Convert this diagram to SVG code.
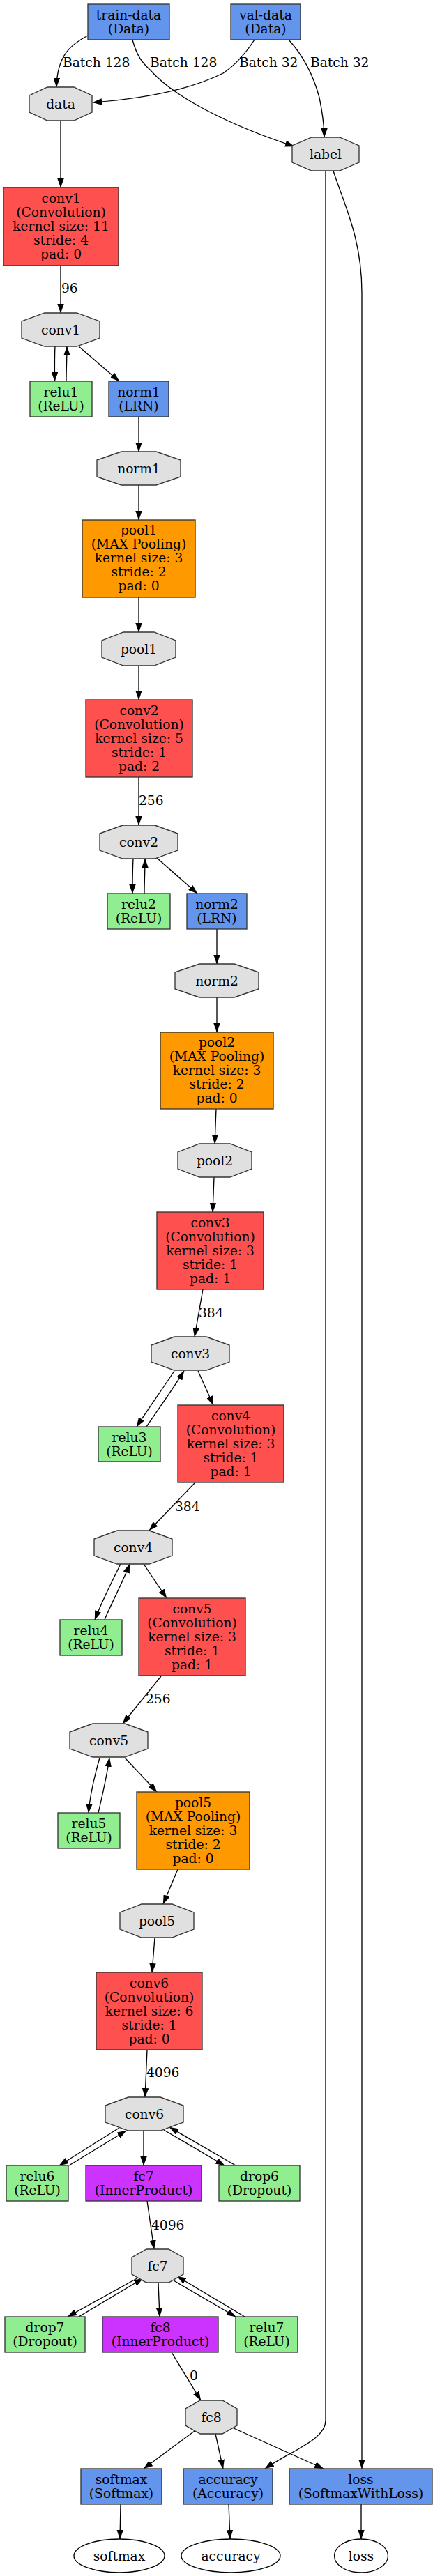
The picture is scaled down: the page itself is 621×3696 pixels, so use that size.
<svg xmlns="http://www.w3.org/2000/svg" width="621" height="3696" viewBox="0 0 621 3696">
<style>
text{font-family:"DejaVu Serif","Liberation Serif",serif;font-size:18.67px;fill:#000}
.n text{text-anchor:middle}
.blob{fill:#E0E0E0;stroke:#333;stroke-width:1.33}
.conv{fill:#FF5050;stroke:#333;stroke-width:1.33}
.pool{fill:#FF9900;stroke:#333;stroke-width:1.33}
.ip{fill:#CC33FF;stroke:#333;stroke-width:1.33}
.blue{fill:#6495ED;stroke:#333;stroke-width:1.33}
.green{fill:#90EE90;stroke:#333;stroke-width:1.33}
.out{fill:#fff;stroke:#000;stroke-width:1.33}
#edges path{fill:none;stroke:#000;stroke-width:1.33;marker-end:url(#ah)}
</style>
<defs>
<marker id="ah" viewBox="0 0 13.5 9.5" refX="13" refY="4.75" markerWidth="13.5" markerHeight="9.5" markerUnits="userSpaceOnUse" orient="auto">
<path d="M0,0 L13.5,4.75 L0,9.5 z" fill="#000"/>
</marker>
</defs>
<rect width="621" height="3696" fill="#fff"/>
<g id="edges">
<path d="M126,51 C103,63 82,78 81,125"/>
<path d="M190,57 C196,80 204,90 215,100 C250,140 330,180 422,210"/>
<path d="M365,57 C350,80 335,95 320,105 C270,130 200,142 133,147"/>
<path d="M414,57 C435,80 450,110 458,140 C463,165 465,180 465,197"/>
<path d="M87,173 L87,269"/>
<path d="M467,245 L467,3473 C467,3500 420,3515 380,3542"/>
<path d="M478,245 C492,290 519,340 519,420 L519,3542"/>
<path d="M87,381 L87,449"/>
<path d="M79,497 C78,515 78.5,530 78.5,547"/>
<path d="M95,547 C95,530 96,515 96,497"/>
<path d="M113,497 L171,547"/>
<path d="M199,598 L199,648"/>
<path d="M199,696 L199,746"/>
<path d="M199,857 L199,907"/>
<path d="M199,955 L199,1004"/>
<path d="M199,1115 L199,1184"/>
<path d="M191,1232 C190,1250 190,1265 190,1282"/>
<path d="M207,1282 C207,1265 208,1250 208,1232"/>
<path d="M225,1231 L283,1282"/>
<path d="M311,1333 L311,1383"/>
<path d="M311,1431 L311,1481"/>
<path d="M310,1591 L308,1641"/>
<path d="M307,1689 L305,1739"/>
<path d="M291,1850 L279,1918"/>
<path d="M250,1967 C235,1990 210,2025 196,2047"/>
<path d="M210,2047 C225,2025 250,1990 264,1967"/>
<path d="M284,1967 L306,2016"/>
<path d="M279,2128 L214,2196"/>
<path d="M173,2244 C160,2270 145,2300 136,2324"/>
<path d="M150,2324 C160,2300 176,2270 186,2244"/>
<path d="M206,2244 L239,2293"/>
<path d="M231,2405 L176,2473"/>
<path d="M143,2522 C135,2550 129,2575 127,2601"/>
<path d="M141,2601 C147,2575 153,2550 157,2522"/>
<path d="M179,2522 L225,2571"/>
<path d="M255,2682 L234,2732"/>
<path d="M222,2780 L218,2830"/>
<path d="M211,2941 L208,3009"/>
<path d="M171,3053 L85,3107"/>
<path d="M99,3107 L181,3057"/>
<path d="M206,3057 L206,3107"/>
<path d="M235,3056 L322,3107"/>
<path d="M338,3107 L243,3052"/>
<path d="M211,3158 L221,3227"/>
<path d="M200,3267 L97,3324"/>
<path d="M113,3324 L205,3269"/>
<path d="M227,3275 L229,3324"/>
<path d="M249,3272 L338,3324"/>
<path d="M351,3324 L254,3266"/>
<path d="M246,3375 L288,3444"/>
<path d="M279,3488 L206,3542"/>
<path d="M309,3492 L320,3542"/>
<path d="M333,3483 L464,3542"/>
<path d="M173,3593 L172,3643"/>
<path d="M328,3593 L330,3643"/>
<path d="M518,3593 L518,3643"/>
<text x="90" y="96">Batch 128</text>
<text x="215" y="96">Batch 128</text>
<text x="343" y="96">Batch 32</text>
<text x="445" y="96">Batch 32</text>
<text x="88" y="420">96</text>
<text x="199" y="1155">256</text>
<text x="285" y="1890">384</text>
<text x="251" y="2168">384</text>
<text x="209" y="2444">256</text>
<text x="210" y="2980">4096</text>
<text x="217" y="3199">4096</text>
<text x="272" y="3415">0</text>
</g>
<g id="train-data" class="n"><rect class="blue" x="126" y="6" width="117" height="51"/><text x="184.5" y="27.5">train-data</text><text x="184.5" y="47.5">(Data)</text></g>
<g id="val-data" class="n"><rect class="blue" x="331" y="6" width="100" height="51"/><text x="381" y="27.5">val-data</text><text x="381" y="47.5">(Data)</text></g>
<g id="data" class="n"><polygon class="blob" points="68,125 106,125 132,137 132,161 106,173 68,173 42,161 42,137"/><text x="87" y="155.5">data</text></g>
<g id="label" class="n"><polygon class="blob" points="447,197 487,197 515,209 515,233 487,245 447,245 419,233 419,209"/><text x="467" y="227.5">label</text></g>
<g id="conv1" class="n"><rect class="conv" x="5" y="269" width="165" height="112"/><text x="87.5" y="291">conv1</text><text x="87.5" y="311">(Convolution)</text><text x="87.5" y="331">kernel size: 11</text><text x="87.5" y="351">stride: 4</text><text x="87.5" y="371">pad: 0</text></g>
<g id="conv1-blob" class="n"><polygon class="blob" points="64,449 110,449 143,461 143,485 110,497 64,497 31,485 31,461"/><text x="87" y="479.5">conv1</text></g>
<g id="relu1" class="n"><rect class="green" x="43" y="547" width="89" height="51"/><text x="87.5" y="569">relu1</text><text x="87.5" y="589">(ReLU)</text></g>
<g id="norm1" class="n"><rect class="blue" x="156" y="547" width="86" height="51"/><text x="199" y="569">norm1</text><text x="199" y="589">(LRN)</text></g>
<g id="norm1-blob" class="n"><polygon class="blob" points="174,648 224,648 259,660 259,684 224,696 174,696 139,684 139,660"/><text x="199" y="678.5">norm1</text></g>
<g id="pool1" class="n"><rect class="pool" x="118" y="746" width="162" height="111"/><text x="199" y="767">pool1</text><text x="199" y="787">(MAX Pooling)</text><text x="199" y="807">kernel size: 3</text><text x="199" y="827">stride: 2</text><text x="199" y="847">pad: 0</text></g>
<g id="pool1-blob" class="n"><polygon class="blob" points="177,907 221,907 252,919 252,943 221,955 177,955 146,943 146,919"/><text x="199" y="937.5">pool1</text></g>
<g id="conv2" class="n"><rect class="conv" x="123" y="1004" width="153" height="111"/><text x="199.5" y="1026">conv2</text><text x="199.5" y="1046">(Convolution)</text><text x="199.5" y="1066">kernel size: 5</text><text x="199.5" y="1086">stride: 1</text><text x="199.5" y="1106">pad: 2</text></g>
<g id="conv2-blob" class="n"><polygon class="blob" points="176,1184 222,1184 255,1196 255,1220 222,1232 176,1232 143,1220 143,1196"/><text x="199" y="1214.5">conv2</text></g>
<g id="relu2" class="n"><rect class="green" x="154" y="1282" width="90" height="51"/><text x="199" y="1304">relu2</text><text x="199" y="1324">(ReLU)</text></g>
<g id="norm2" class="n"><rect class="blue" x="268" y="1282" width="86" height="51"/><text x="311" y="1304">norm2</text><text x="311" y="1324">(LRN)</text></g>
<g id="norm2-blob" class="n"><polygon class="blob" points="286,1383 336,1383 371,1395 371,1419 336,1431 286,1431 251,1419 251,1395"/><text x="311" y="1413.5">norm2</text></g>
<g id="pool2" class="n"><rect class="pool" x="230" y="1481" width="162" height="110"/><text x="311" y="1502">pool2</text><text x="311" y="1522">(MAX Pooling)</text><text x="311" y="1542">kernel size: 3</text><text x="311" y="1562">stride: 2</text><text x="311" y="1582">pad: 0</text></g>
<g id="pool2-blob" class="n"><polygon class="blob" points="286,1641 330,1641 361,1653 361,1677 330,1689 286,1689 255,1677 255,1653"/><text x="308" y="1671.5">pool2</text></g>
<g id="conv3" class="n"><rect class="conv" x="225" y="1739" width="153" height="111"/><text x="301.5" y="1761">conv3</text><text x="301.5" y="1781">(Convolution)</text><text x="301.5" y="1801">kernel size: 3</text><text x="301.5" y="1821">stride: 1</text><text x="301.5" y="1841">pad: 1</text></g>
<g id="conv3-blob" class="n"><polygon class="blob" points="250,1918 296,1918 329,1930 329,1954 296,1966 250,1966 217,1954 217,1930"/><text x="273" y="1948.5">conv3</text></g>
<g id="relu3" class="n"><rect class="green" x="141" y="2047" width="89" height="50"/><text x="185.5" y="2068.5">relu3</text><text x="185.5" y="2088.5">(ReLU)</text></g>
<g id="conv4" class="n"><rect class="conv" x="255" y="2016" width="152" height="111"/><text x="331" y="2038">conv4</text><text x="331" y="2058">(Convolution)</text><text x="331" y="2078">kernel size: 3</text><text x="331" y="2098">stride: 1</text><text x="331" y="2118">pad: 1</text></g>
<g id="conv4-blob" class="n"><polygon class="blob" points="168,2196 214,2196 247,2208 247,2232 214,2244 168,2244 135,2232 135,2208"/><text x="191" y="2226.5">conv4</text></g>
<g id="relu4" class="n"><rect class="green" x="86" y="2324" width="89" height="51"/><text x="130.5" y="2346">relu4</text><text x="130.5" y="2366">(ReLU)</text></g>
<g id="conv5" class="n"><rect class="conv" x="199" y="2293" width="153" height="111"/><text x="275.5" y="2315">conv5</text><text x="275.5" y="2335">(Convolution)</text><text x="275.5" y="2355">kernel size: 3</text><text x="275.5" y="2375">stride: 1</text><text x="275.5" y="2395">pad: 1</text></g>
<g id="conv5-blob" class="n"><polygon class="blob" points="133,2473 179,2473 212,2485 212,2509 179,2521 133,2521 100,2509 100,2485"/><text x="156" y="2503.5">conv5</text></g>
<g id="relu5" class="n"><rect class="green" x="83" y="2601" width="89" height="51"/><text x="127.5" y="2623">relu5</text><text x="127.5" y="2643">(ReLU)</text></g>
<g id="pool5" class="n"><rect class="pool" x="196" y="2571" width="162" height="111"/><text x="277" y="2593">pool5</text><text x="277" y="2613">(MAX Pooling)</text><text x="277" y="2633">kernel size: 3</text><text x="277" y="2653">stride: 2</text><text x="277" y="2673">pad: 0</text></g>
<g id="pool5-blob" class="n"><polygon class="blob" points="203,2732 247,2732 278,2744 278,2768 247,2780 203,2780 172,2768 172,2744"/><text x="225" y="2762.5">pool5</text></g>
<g id="conv6" class="n"><rect class="conv" x="138" y="2830" width="152" height="111"/><text x="214" y="2852">conv6</text><text x="214" y="2872">(Convolution)</text><text x="214" y="2892">kernel size: 6</text><text x="214" y="2912">stride: 1</text><text x="214" y="2932">pad: 0</text></g>
<g id="conv6-blob" class="n"><polygon class="blob" points="184,3009 230,3009 263,3021 263,3045 230,3057 184,3057 151,3045 151,3021"/><text x="207" y="3039.5">conv6</text></g>
<g id="relu6" class="n"><rect class="green" x="9" y="3107" width="89" height="51"/><text x="53.5" y="3129">relu6</text><text x="53.5" y="3149">(ReLU)</text></g>
<g id="fc7" class="n"><rect class="ip" x="123" y="3107" width="166" height="51"/><text x="206" y="3129">fc7</text><text x="206" y="3149">(InnerProduct)</text></g>
<g id="drop6" class="n"><rect class="green" x="314" y="3107" width="116" height="51"/><text x="372" y="3129">drop6</text><text x="372" y="3149">(Dropout)</text></g>
<g id="fc7-blob" class="n"><polygon class="blob" points="210,3227 242,3227 263,3239 263,3263 242,3275 210,3275 189,3263 189,3239"/><text x="226" y="3257.5">fc7</text></g>
<g id="drop7" class="n"><rect class="green" x="7" y="3324" width="115" height="51"/><text x="64.5" y="3346">drop7</text><text x="64.5" y="3366">(Dropout)</text></g>
<g id="fc8" class="n"><rect class="ip" x="147" y="3324" width="166" height="51"/><text x="230" y="3346">fc8</text><text x="230" y="3366">(InnerProduct)</text></g>
<g id="relu7" class="n"><rect class="green" x="338" y="3324" width="89" height="51"/><text x="382.5" y="3346">relu7</text><text x="382.5" y="3366">(ReLU)</text></g>
<g id="fc8-blob" class="n"><polygon class="blob" points="287,3444 319,3444 340,3456 340,3480 319,3492 287,3492 266,3480 266,3456"/><text x="303" y="3474.5">fc8</text></g>
<g id="softmax" class="n"><rect class="blue" x="116" y="3542" width="116" height="51"/><text x="174" y="3564">softmax</text><text x="174" y="3584">(Softmax)</text></g>
<g id="accuracy" class="n"><rect class="blue" x="263" y="3542" width="128" height="51"/><text x="327" y="3564">accuracy</text><text x="327" y="3584">(Accuracy)</text></g>
<g id="loss" class="n"><rect class="blue" x="415" y="3542" width="205" height="51"/><text x="517.5" y="3564">loss</text><text x="517.5" y="3584">(SoftmaxWithLoss)</text></g>
<g id="softmax-out" class="n"><ellipse class="out" cx="171" cy="3667" rx="65" ry="24"/><text x="171" y="3673.5">softmax</text></g>
<g id="accuracy-out" class="n"><ellipse class="out" cx="331" cy="3667" rx="71" ry="24"/><text x="331" y="3673.5">accuracy</text></g>
<g id="loss-out" class="n"><ellipse class="out" cx="518" cy="3667" rx="38.5" ry="24"/><text x="518" y="3673.5">loss</text></g>
</svg>
